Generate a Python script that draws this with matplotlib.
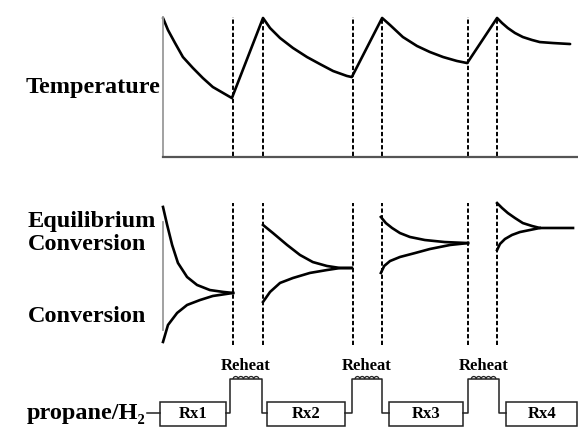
import matplotlib
matplotlib.use('Agg')
import matplotlib.pyplot as plt
from matplotlib.patches import Rectangle, Arc

# bed position (0-100) and temperature (0-100, arbitrary)
temp_x = [0, 1.2, 2.9, 4.8, 7.2, 9.6, 12.0, 14.5, 16.6,
          24.1, 25.8, 28.2, 31.3, 34.7, 37.8, 41.0, 44.3, 45.5,
          52.8, 54.7, 57.8, 61.2, 64.3, 67.5, 70.8, 73.3,
          80.5, 81.7, 83.1, 84.8, 86.7, 88.9, 90.8, 94.0, 98.1]
temp_y = [99.3, 90.7, 81.4, 71.4, 63.6, 56.4, 50.0, 45.7, 42.1,
          99.3, 92.1, 85.0, 77.9, 71.4, 66.4, 61.4, 57.9, 57.1,
          99.3, 94.3, 85.7, 79.3, 75.0, 71.4, 68.6, 67.1,
          99.3, 95.7, 92.1, 88.6, 85.7, 83.6, 82.1, 81.4, 80.7]

# equilibrium conversion and conversion, one list per reactor
eq_x = [[0, 1.0, 2.2, 3.6, 5.8, 8.2, 11.3, 14.5, 16.9],
        [24.1, 26.5, 29.9, 33.0, 36.1, 39.5, 42.7, 45.5],
        [52.5, 53.7, 55.2, 57.1, 59.5, 63.1, 67.9, 73.5],
        [80.5, 81.7, 83.1, 84.8, 86.7, 88.9, 90.8, 98.8]]
eq_y = [[95.2, 82.8, 69.0, 56.6, 46.9, 41.4, 37.9, 36.6, 35.9],
        [82.8, 77.2, 69.0, 62.1, 57.2, 54.5, 53.1, 53.1],
        [88.3, 84.1, 80.7, 77.2, 74.5, 72.4, 71.0, 70.3],
        [97.9, 94.5, 91.0, 87.6, 84.1, 82.1, 80.7, 80.7]]
conv_x = [[0, 1.2, 3.4, 5.8, 8.9, 12.0, 16.9],
          [24.1, 25.8, 28.2, 31.3, 35.4, 39.5, 42.7, 45.5],
          [52.5, 53.3, 54.7, 57.1, 60.7, 64.3, 69.2, 73.5],
          [80.5, 81.2, 82.4, 84.1, 86.0, 88.4, 90.8]]
conv_y = [[2.1, 13.8, 22.1, 27.6, 31.0, 33.8, 35.9],
          [29.7, 36.6, 42.8, 46.2, 49.7, 51.7, 53.1, 53.1],
          [49.7, 54.5, 57.9, 60.7, 63.4, 66.2, 69.0, 70.3],
          [65.5, 69.7, 73.1, 75.9, 77.9, 79.3, 80.7]]

# reactor inlet/outlet positions
bed_ends = [16.9, 45.8, 73.5]
bed_starts = [24.1, 52.8, 80.5]

reactors = ['Rx1', 'Rx2', 'Rx3', 'Rx4']
box_left = [-0.7, 25.1, 54.5, 82.7]
box_right = [15.2, 43.9, 72.3, 99.8]
pipe_up = [16.1, 45.5, 73.5]
pipe_down = [23.9, 52.8, 81.0]

W, H = 578, 428
fig = plt.figure(figsize=(W / 100, H / 100), dpi=100)

serif = ['Liberation Serif', 'DejaVu Serif']
dash = (0, (2.2, 1.2))

# Temperature panel
ax1 = fig.add_axes([163 / W, 1 - 157 / H, 415 / W, 140 / H])
ax1.plot(temp_x, temp_y, color='black', lw=1.9, clip_on=False,
         solid_joinstyle='round', solid_capstyle='round')
for xv in bed_ends + bed_starts:
    ax1.axvline(xv, ymin=0.01, ymax=1.0, color='black', lw=1.4, linestyle=dash)
ax1.set_xlim(0, 100)
ax1.set_ylim(0, 100)
ax1.spines['top'].set_visible(False)
ax1.spines['right'].set_visible(False)
ax1.spines['left'].set_color('#9a9a9a')
ax1.spines['left'].set_linewidth(1.3)
ax1.spines['bottom'].set_color('#555555')
ax1.spines['bottom'].set_linewidth(1.6)
ax1.set_xticks([])
ax1.set_yticks([])
ax1.patch.set_visible(False)

# Conversion panel
ax2 = fig.add_axes([163 / W, 1 - 345 / H, 415 / W, 145 / H])
for xs, ys in zip(eq_x, eq_y):
    ax2.plot(xs, ys, color='black', lw=1.9, clip_on=False, solid_joinstyle='round')
for xs, ys in zip(conv_x, conv_y):
    ax2.plot(xs, ys, color='black', lw=1.9, clip_on=False, solid_joinstyle='round')
for xv in bed_ends + bed_starts:
    ax2.axvline(xv, ymin=0.0, ymax=0.98, color='black', lw=1.4, linestyle=dash)
ax2.set_xlim(0, 100)
ax2.set_ylim(0, 100)
for s in ['top', 'right', 'bottom']:
    ax2.spines[s].set_visible(False)
ax2.spines['left'].set_color('#9a9a9a')
ax2.spines['left'].set_linewidth(1.3)
ax2.spines['left'].set_bounds(10.3, 84.8)
ax2.set_xticks([])
ax2.set_yticks([])
ax2.patch.set_visible(False)

# Flow sheet
ax3 = fig.add_axes([0, 0, 1, 78 / H])
ax3.set_xlim(-163 / 4.15, 100)
ax3.set_ylim(0, 78)
ax3.axis('off')
line_kw = dict(color='#222222', lw=1.1)
ax3.plot([-3.9, box_left[0]], [15, 15], **line_kw)
for name, l, r in zip(reactors, box_left, box_right):
    ax3.add_patch(Rectangle((l, 2), r - l, 24, fill=False, edgecolor='#222222', lw=1.1))
    ax3.text((l + r) / 2, 14, name, ha='center', va='center', fontsize=12,
             fontweight='bold', family=serif)
for i in range(3):
    u, d = pipe_up[i], pipe_down[i]
    ax3.plot([box_right[i], u, u, d, d, box_left[i + 1]],
             [15, 15, 49, 49, 15, 15], **line_kw)
    n = 5
    w = (d - u - 1.6) / n
    for k in range(n):
        cx = u + 0.8 + w * (k + 0.5)
        ax3.add_patch(Arc((cx, 49), w, 5, theta1=0, theta2=180, color='#222222', lw=0.9))
    ax3.text((u + d) / 2, 62, 'Reheat', ha='center', va='center', fontsize=12,
             fontweight='bold', family=serif)

# Labels
def label(x, y, s, ha):
    fig.text(x / W, 1 - y / H, s, ha=ha, va='center', fontsize=17.5,
             fontweight='bold', family=serif)

label(160, 88, 'Temperature', 'right')
label(28, 222, 'Equilibrium', 'left')
label(28, 245, 'Conversion', 'left')
label(28, 316, 'Conversion', 'left')
label(145, 413, 'propane/H\u2082', 'right')

fig.savefig('out.png', dpi=100)
